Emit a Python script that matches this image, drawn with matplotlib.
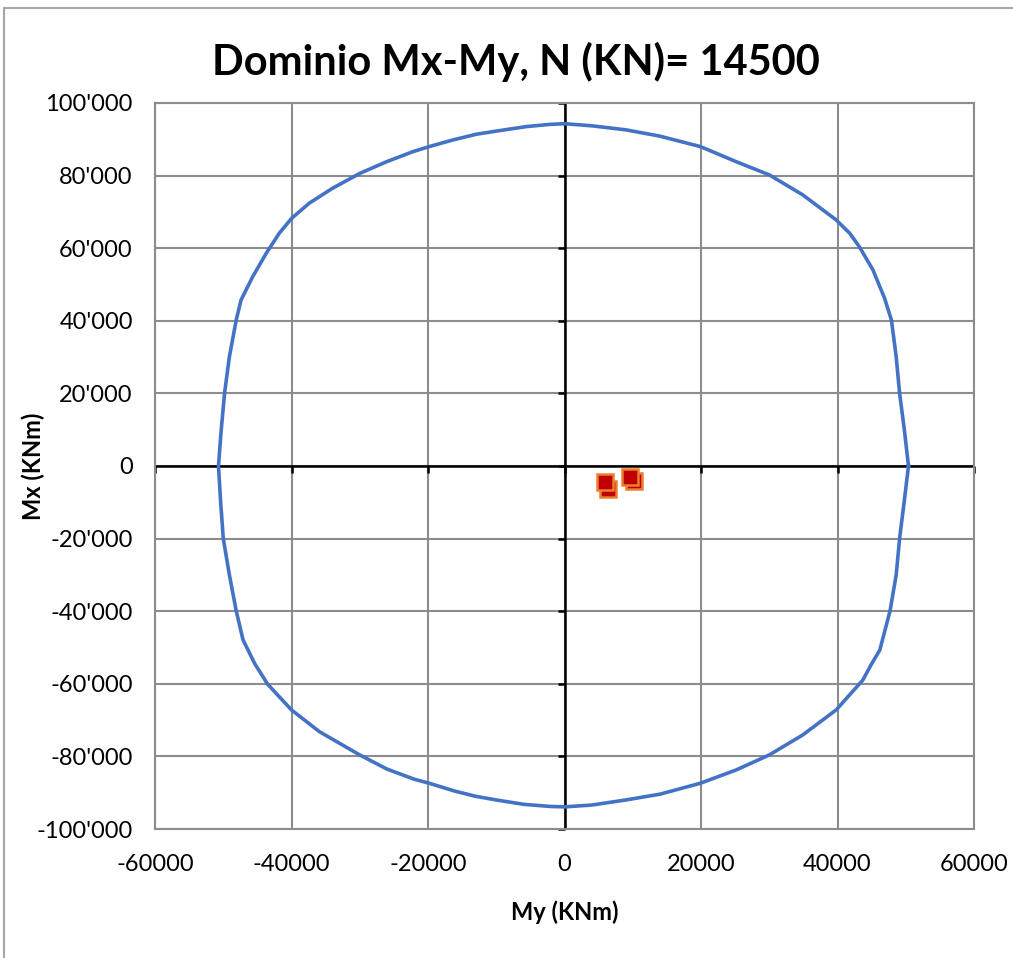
import matplotlib.pyplot as plt
from matplotlib.patches import Rectangle
from matplotlib.ticker import FuncFormatter

# Interaction domain (My, Mx) in kNm (counter-clockwise)
dom_my = [50400, 49800, 49100, 48600, 47900, 46900, 45200, 43200, 41800, 39800,
          34900, 30000, 25200, 19900, 13900, 9000, 4100, 0,
          -2200, -5600, -9500, -12900, -16400, -19800, -22200, -26100, -30000,
          -34000, -37400, -40000, -41800, -43700, -45700, -47400, -48100, -49100,
          -49800, -50300, -50700,
          -50400, -50000, -49100, -48100, -47100, -45400, -43500, -40000, -35900,
          -30000, -26000, -22000, -20000, -16000, -13000, -10000, -6000, -2000, 0,
          4000, 9000, 14000, 19900, 25200, 30000, 34900, 39800,
          43700, 45000, 46200, 47700, 48600, 49100, 49800, 50400]
dom_mx = [0, 9900, 20000, 30100, 40200, 46200, 54000, 60400, 64100, 67800,
          74700, 80200, 83800, 88000, 90900, 92600, 93700, 94300,
          94100, 93500, 92400, 91400, 89800, 88000, 86600, 83800, 80600,
          76500, 72400, 68200, 64100, 58600, 52100, 45700, 40200, 30100,
          20200, 9900, 0,
          -9400, -19900, -30000, -39900, -47900, -54400, -60100, -67200, -73200,
          -79600, -83500, -86300, -87300, -89600, -91000, -92000, -93200, -93800, -93900,
          -93400, -92000, -90400, -87400, -83700, -79600, -74100, -67200,
          -59000, -54500, -50700, -39900, -30000, -19900, -9400, 0]

# Design load points
load_my = [6350, 10250, 6000, 9600]
load_mx = [-6200, -4000, -4300, -2900]

x_ticks = [-60000, -40000, -20000, 0, 20000, 40000, 60000]
y_ticks = [-100000, -80000, -60000, -40000, -20000, 0, 20000, 40000, 60000, 80000, 100000]

plt.rcParams['font.family'] = ['Lato', 'DejaVu Sans']

fig = plt.figure(figsize=(10.13, 9.58), dpi=100)
fig.patches.append(Rectangle((4 / 1013, -0.1), 1.2, 1.1 - 8 / 958,
                             transform=fig.transFigure, fill=False,
                             edgecolor='#a6a6a6', linewidth=1.5))
ax = fig.add_axes([155 / 1013, 1 - 829 / 958, (974 - 155) / 1013, (829 - 103) / 958])

ax.set_xlim(-60000, 60000)
ax.set_ylim(-100000, 100000)
ax.set_xticks(x_ticks)
ax.set_yticks(y_ticks)
ax.grid(True, color='#8c8c8c', linewidth=1.5)
ax.set_axisbelow(True)
for s in ax.spines.values():
    s.set_color('#8c8c8c')
    s.set_linewidth(1.5)
ax.tick_params(length=0, labelsize=17, colors='black')
ax.tick_params(axis='x', pad=18)
ax.tick_params(axis='y', pad=16)
ax.yaxis.set_major_formatter(FuncFormatter(lambda v, p: f"{v:,.0f}".replace(",", "'")))
ax.xaxis.set_major_formatter(FuncFormatter(lambda v, p: f"{v:.0f}"))

# zero axes with tick marks
ax.axhline(0, color='black', linewidth=1.8, zorder=2)
ax.axvline(0, color='black', linewidth=1.8, zorder=2)
ax.plot([0] * len(y_ticks), y_ticks, linestyle='none', marker=0, markersize=5,
        markeredgewidth=1.8, color='black', clip_on=False, zorder=2)
ax.plot(x_ticks, [0] * len(x_ticks), linestyle='none', marker=3, markersize=5,
        markeredgewidth=1.8, color='black', clip_on=False, zorder=2)

ax.plot(dom_my, dom_mx, color='#4472c4', linewidth=2.6, zorder=3,
        solid_joinstyle='round')
ax.plot(load_my, load_mx, linestyle='none', marker='s', markersize=11,
        markerfacecolor='#c00000', markeredgecolor='#ed7d31', markeredgewidth=1.8,
        zorder=4)

fig.text(516 / 1013, 1 - 62 / 958, 'Dominio Mx-My, N (KN)= 14500', fontsize=30,
         fontweight='bold', ha='center', va='center')
ax.set_xlabel('My (KNm)', fontsize=17, fontweight='bold', labelpad=18)
fig.text(33 / 1013, 1 - 466 / 958, 'Mx (KNm)', fontsize=17, fontweight='bold',
         rotation=90, ha='center', va='center')

fig.savefig('out.png', dpi=100)
